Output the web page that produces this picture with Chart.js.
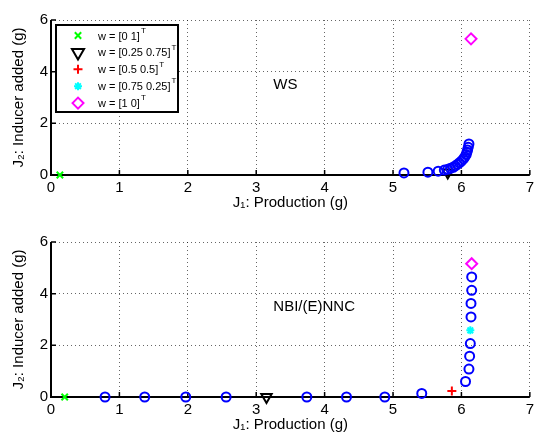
<!DOCTYPE html>
<html>
<head>
<meta charset="utf-8">
<script src="https://cdn.jsdelivr.net/npm/chart.js@4/dist/chart.umd.min.js"></script>
<style>
  html, body { margin: 0; padding: 0; background: #fff; overflow: hidden; }
  .plot { position: absolute; left: 0; width: 538px; height: 216px; }
  #wsPlot { top: 0; }
  #nbiPlot { top: 222px; }
</style>
</head>
<body>
<div class="plot" id="wsPlot"><canvas id="wsChart"></canvas></div>
<div class="plot" id="nbiPlot"><canvas id="nbiChart"></canvas></div>
<script>
// weight vectors (legend)
const weightNames = ['[0 1]', '[0.25 0.75]', '[0.5 0.5]', '[0.75 0.25]', '[1 0]'];

// WS: pareto points (blue circles)
const wsCirclesX = [5.16, 5.51, 5.66, 5.75, 5.80, 5.84, 5.88, 5.91, 5.94, 5.97, 6.00, 6.03, 6.05, 6.07, 6.08, 6.09, 6.10, 6.11];
const wsCirclesY = [0.08, 0.11, 0.15, 0.19, 0.22, 0.26, 0.30, 0.35, 0.41, 0.47, 0.54, 0.62, 0.70, 0.79, 0.88, 0.97, 1.07, 1.20];
// WS: single weight solutions (null = not visible)
const wsWeightX = [0.13, 5.80, null, null, 6.14];
const wsWeightY = [0, 0.10, null, null, 5.27];

// NBI/(E)NNC
const nbiCirclesX = [0.79, 1.37, 1.97, 2.56, 3.74, 4.32, 4.88, 5.42, 6.06, 6.11, 6.12, 6.13, 6.14, 6.14, 6.15, 6.15];
const nbiCirclesY = [0, 0, 0, 0, 0, 0, 0, 0.14, 0.60, 1.08, 1.58, 2.07, 3.10, 3.62, 4.13, 4.65];
const nbiWeightX = [0.20, 3.15, 5.86, 6.13, 6.15];
const nbiWeightY = [0, 0, 0.23, 2.58, 5.16];

// marker look for each weight (matlab style x, v, +, *, d)
const markerStyles = [
    { pointStyle: 'crossRot', color: '#00ff00', radius: 4.5, rotation: 0 },
    { pointStyle: 'triangle', color: '#000000', radius: 6, rotation: 180 },
    { pointStyle: 'cross', color: '#ff0000', radius: 4.5, rotation: 0 },
    { pointStyle: 'star', color: '#00ffff', radius: 4, rotation: 0 },
    { pointStyle: 'rectRot', color: '#ff00ff', radius: 5.5, rotation: 0 }
];

Chart.defaults.font.family = '"Liberation Sans", Arial, sans-serif';
Chart.defaults.font.size = 15;
Chart.defaults.color = '#000';

function toPoints(xs, ys) {
    return xs.map((x, i) => ({ x: x, y: ys[i] }));
}

// axis lines with inward ticks, text label and legend box
const matlabAxes = {
    id: 'matlabAxes',
    beforeDatasetsDraw(chart) {
        const { ctx, chartArea: a, scales: { x, y } } = chart;
        ctx.save();
        ctx.strokeStyle = '#000';
        ctx.lineWidth = 2;
        ctx.beginPath();
        ctx.moveTo(a.left, a.top);
        ctx.lineTo(a.left, a.bottom);
        ctx.lineTo(a.right, a.bottom);
        ctx.stroke();
        ctx.lineWidth = 1.5;
        ctx.beginPath();
        x.ticks.forEach(t => {
            const px = x.getPixelForValue(t.value);
            ctx.moveTo(px, a.bottom);
            ctx.lineTo(px, a.bottom - 5);
        });
        y.ticks.forEach(t => {
            const py = y.getPixelForValue(t.value);
            ctx.moveTo(a.left, py);
            ctx.lineTo(a.left + 5, py);
        });
        ctx.stroke();
        ctx.restore();
    },
    afterDraw(chart, args, opts) {
        const { ctx, chartArea: a, scales: { x, y } } = chart;
        ctx.save();
        ctx.fillStyle = '#000';
        ctx.font = '15px "Liberation Sans", Arial, sans-serif';
        ctx.textAlign = 'left';
        ctx.textBaseline = 'middle';
        ctx.fillText(opts.label, x.getPixelForValue(opts.labelAt[0]), y.getPixelForValue(opts.labelAt[1]));

        if (opts.legend) {
            const bx = a.left + 5, by = a.top + 5, bw = 122, bh = 87;
            ctx.fillStyle = '#fff';
            ctx.fillRect(bx, by, bw, bh);
            ctx.strokeStyle = '#000';
            ctx.lineWidth = 2;
            ctx.strokeRect(bx, by, bw, bh);
            weightNames.forEach((name, i) => {
                const ry = by + 10.5 + i * 16.9;
                const m = markerStyles[i];
                ctx.fillStyle = 'rgba(0,0,0,0)';
                ctx.strokeStyle = m.color;
                ctx.lineWidth = 2;
                Chart.helpers.drawPoint(ctx, {
                    pointStyle: m.pointStyle,
                    radius: m.pointStyle === 'triangle' ? 7 : m.radius,
                    rotation: m.rotation,
                    borderWidth: 2
                }, a.left + 27, ry);
                ctx.fillStyle = '#000';
                ctx.font = '11px "Liberation Sans", Arial, sans-serif';
                const txt = 'w = ' + name;
                ctx.fillText(txt, a.left + 47, ry + 1);
                const w = ctx.measureText(txt).width;
                ctx.font = '8px "Liberation Sans", Arial, sans-serif';
                ctx.fillText('T', a.left + 48 + w, ry - 5);
            });
        }
        ctx.restore();
    }
};

function makeChart(canvasId, circlesX, circlesY, weightX, weightY, label, showLegend) {
    const datasets = [{
        label: 'pareto',
        data: toPoints(circlesX, circlesY),
        pointStyle: 'circle',
        pointRadius: 4.5,
        pointBorderWidth: 2,
        borderColor: '#0000ff',
        pointBorderColor: '#0000ff',
        backgroundColor: 'rgba(0,0,0,0)',
        pointBackgroundColor: 'rgba(0,0,0,0)',
        clip: false
    }];
    weightNames.forEach((name, i) => {
        if (weightX[i] === null) return;
        const m = markerStyles[i];
        datasets.push({
            label: 'w = ' + name,
            data: [{ x: weightX[i], y: weightY[i] }],
            pointStyle: m.pointStyle,
            pointRotation: m.rotation,
            pointRadius: m.radius,
            pointBorderWidth: 2,
            borderColor: m.color,
            pointBorderColor: m.color,
            backgroundColor: 'rgba(0,0,0,0)',
            pointBackgroundColor: 'rgba(0,0,0,0)',
            clip: false
        });
    });

    return new Chart(document.getElementById(canvasId).getContext('2d'), {
        type: 'scatter',
        data: { datasets: datasets },
        plugins: [matlabAxes],
        options: {
            responsive: true,
            maintainAspectRatio: false,
            animation: false,
            events: [],
            layout: { padding: { top: 20, right: 5, bottom: 0, left: 0 } },
            plugins: {
                legend: { display: false },
                tooltip: { enabled: false },
                matlabAxes: { label: label, labelAt: [3.25, 3.5], legend: showLegend }
            },
            scales: {
                x: {
                    type: 'linear',
                    min: 0,
                    max: 7,
                    ticks: { stepSize: 1, padding: 4, color: '#000' },
                    grid: { color: 'rgba(0,0,0,0.6)', lineWidth: 1, drawTicks: false },
                    border: { display: false, dash: [1, 3] },
                    title: { display: true, text: 'J₁: Production (g)', color: '#000', padding: { top: 0, bottom: 4.5 } },
                    afterFit(s) { s.height = 41; }
                },
                y: {
                    type: 'linear',
                    min: 0,
                    max: 6,
                    ticks: { stepSize: 2, padding: 3, color: '#000' },
                    grid: { color: 'rgba(0,0,0,0.6)', lineWidth: 1, drawTicks: false },
                    border: { display: false, dash: [1, 3] },
                    title: { display: true, text: 'J₂: Inducer added (g)', color: '#000', padding: { top: 10, bottom: 0 } },
                    afterFit(s) { s.width = 51; }
                }
            }
        }
    });
}

const wsChart = makeChart('wsChart', wsCirclesX, wsCirclesY, wsWeightX, wsWeightY, 'WS', true);
const nbiChart = makeChart('nbiChart', nbiCirclesX, nbiCirclesY, nbiWeightX, nbiWeightY, 'NBI/(E)NNC', false);
</script>
</body>
</html>
